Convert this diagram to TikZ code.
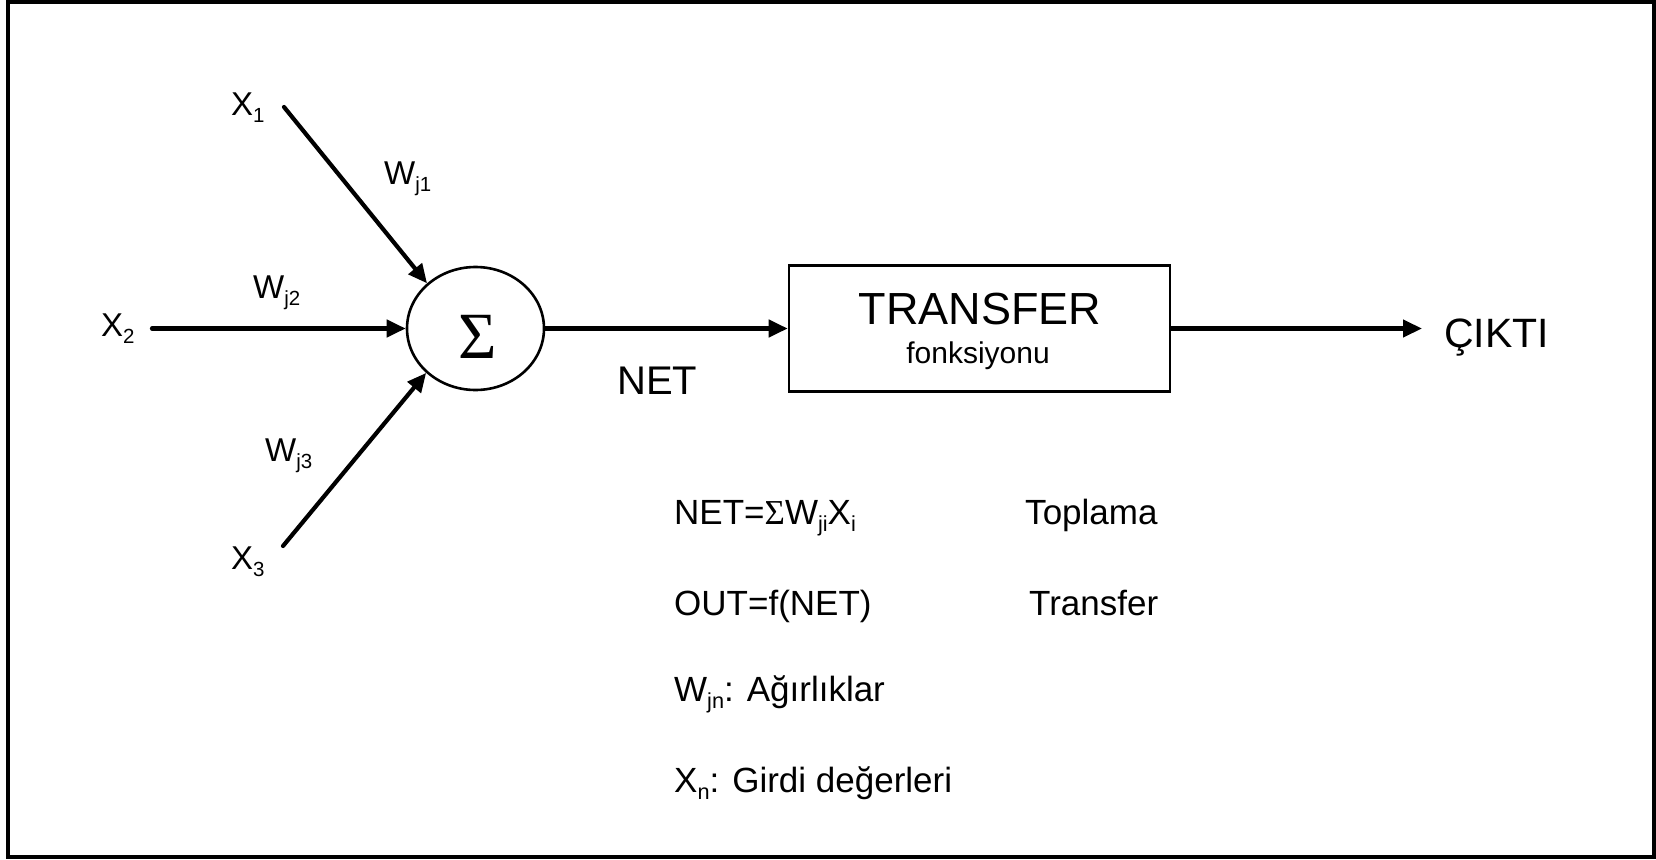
\documentclass[tikz,border=0pt]{standalone}
\usepackage{fontspec}
\setmainfont{Liberation Sans}
\newfontfamily\serifsym{Liberation Serif}
\usetikzlibrary{arrows.meta,shapes.geometric}
\newcommand{\fsz}[1]{\fontsize{#1}{#1}\selectfont}
\newcommand{\sbx}[1]{\raisebox{-0.22em}{\scalebox{0.62}{#1}}}
\begin{document}
\begin{tikzpicture}[x=1pt,y=-1pt,
  conn/.style={line width=4.2pt, line cap=round, -{Triangle[length=19pt,width=17pt]}},
  lbl/.style={anchor=base west, inner sep=0pt, font=\fsz{33}},
  txt/.style={anchor=base west, inner sep=0pt, font=\fsz{35}}
]
\useasboundingbox (0,0) rectangle (1656,859);
\draw[line width=3.2pt] (8,2) rectangle (1654,857);

% summation node
\node[draw, ellipse, line width=2.6pt, minimum width=137pt, minimum height=123pt, inner sep=0pt] (sum) at (475.5,328.5) {};
\node[anchor=base, inner sep=0pt, font=\serifsym\fsz{66}] (sig) at (478,358) {Σ};

% inputs
\node[lbl] (x1) at (231,115) {X\sbx{1}};
\node[lbl] (x2) at (101,336) {X\sbx{2}};
\node[lbl] (x3) at (231,569) {X\sbx{3}};
\node[lbl] (w1) at (384,184) {W\sbx{j1}};
\node[lbl] (w2) at (253,298) {W\sbx{j2}};
\node[lbl] (w3) at (265,461) {W\sbx{j3}};

\coordinate (c1) at (284,107);
\coordinate (c2) at (152,328.5);
\coordinate (c3) at (283,546);
\draw[conn] (c1) -- (sum.137);
\draw[conn] (c2) -- (sum.west);
\draw[conn] (c3) -- (sum.222);

% transfer box
\node[draw, line width=2.6pt, minimum width=381pt, minimum height=126pt, inner sep=0pt] (box) at (979.5,328.5) {};
\node[anchor=base, inner sep=0pt, font=\fsz{45}] (tr) at (980,324) {TRANSFER};
\node[anchor=base, inner sep=0pt, font=\fsz{30}] (fk) at (978,363) {fonksiyonu};

\draw[conn] (sum.east) -- (box.west);
\node[anchor=base west, inner sep=0pt, font=\fsz{40}] (net) at (617,394) {NET};

\coordinate (outend) at (1422,328.5);
\draw[conn] (box.east) -- (outend);
\node[anchor=base west, inner sep=0pt, font=\fsz{41}] (cikti) at (1444,347) {ÇIKTI};

% formulas
\node[txt] (f1) at (674,524) {NET={\serifsym Σ}W\sbx{ji}X\sbx{i}};
\node[txt] (f1r) at (1025,524) {Toplama};
\node[txt] (f2) at (674,615) {OUT=f(NET)};
\node[txt] (f2r) at (1029,615) {Transfer};
\node[txt] (f3) at (674,701) {W\sbx{jn}: Ağırlıklar};
\node[txt] (f4) at (674,792) {X\sbx{n}: Girdi değerleri};
\end{tikzpicture}
\end{document}
